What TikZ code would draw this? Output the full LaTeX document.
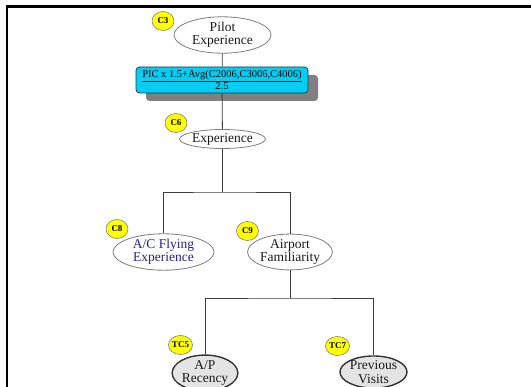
\documentclass[tikz,border=0pt]{standalone}
\usepackage{fontspec}
\setmainfont{Liberation Serif}
\usetikzlibrary{shapes.geometric,shadows}

\definecolor{boxcyan}{RGB}{0,206,242}
\definecolor{shadowgray}{RGB}{128,128,128}
\definecolor{linegray}{RGB}{60,60,60}
\definecolor{rimgray}{RGB}{125,125,125}
\definecolor{badgeyellow}{RGB}{255,255,0}
\definecolor{acblue}{RGB}{35,35,140}
\definecolor{leafgray}{RGB}{228,228,228}

\begin{document}
\begin{tikzpicture}[x=1pt,y=-1pt,
  factor/.style={ellipse,draw=rimgray,fill=white,line width=0.8pt,inner sep=0pt,
    align=center,font=\fontsize{13.5}{13.5}\selectfont,text=black!90},
  leaf/.style={factor,fill=leafgray,draw=black!80,line width=1.4pt},
  badge/.style={ellipse,draw=rimgray,fill=badgeyellow,line width=0.6pt,inner sep=0pt,
    minimum width=22,minimum height=19,font=\fontsize{9}{9}\selectfont\bfseries},
  link/.style={draw=linegray,line width=0.8pt}]
  \useasboundingbox (0,0) rectangle (531,387);

  % page frame
  \draw[line width=2.4pt] (531,6.7) -- (6.7,6.7) -- (6.7,390);

  \coordinate (fork1) at (222.5,192);
  \coordinate (fork2) at (290,298);

  \node[factor,minimum width=97,minimum height=30] (pilot) at (222.5,35) {Pilot\\Experience};
  \node[rectangle,rounded corners=3.5pt,draw=black!80,fill=boxcyan,line width=0.7pt,
    minimum width=172,minimum height=26,inner sep=0pt,align=center,
    font=\fontsize{10.5}{9.5}\selectfont,
    drop shadow={shadow xshift=10pt,shadow yshift=-8pt,fill=shadowgray,opacity=1}]
    (calc) at (222,80) {\underline{PIC x 1.5+Avg(C2006,C3006,C4006)}\\2.5};
  \node[factor,minimum width=82,minimum height=19] (expr) at (222.5,139) {Experience};
  \node[factor,minimum width=101,minimum height=32,text=acblue] (acfly) at (163.5,252) {A/C Flying\\Experience};
  \node[factor,minimum width=78,minimum height=35] (airport) at (290,252) {Airport\\Familiarity};
  \node[leaf,minimum width=61,minimum height=32] (aprec) at (205,373) {A/P\\Recency};
  \node[leaf,minimum width=67,minimum height=32] (prevv) at (373.5,372) {Previous\\Visits};

  \draw[link] (pilot) -- (calc);
  \draw[link] (calc) -- (expr);
  \draw[link] (expr) -- (fork1);
  \draw[link] (acfly.north) |- (fork1) -| (airport.north);
  \draw[link] (airport) -- (fork2);
  \draw[link] (aprec.north) |- (fork2) -| (prevv.north);

  \node[badge] (c3) at (163,21) {C3};
  \node[badge] (c6) at (176,123) {C6};
  \node[badge] (c8) at (117,229) {C8};
  \node[badge] (c9) at (247.5,231) {C9};
  \node[badge] (tc5) at (180.5,345) {TC5};
  \node[badge] (tc7) at (337.5,346) {TC7};
\end{tikzpicture}
\end{document}
